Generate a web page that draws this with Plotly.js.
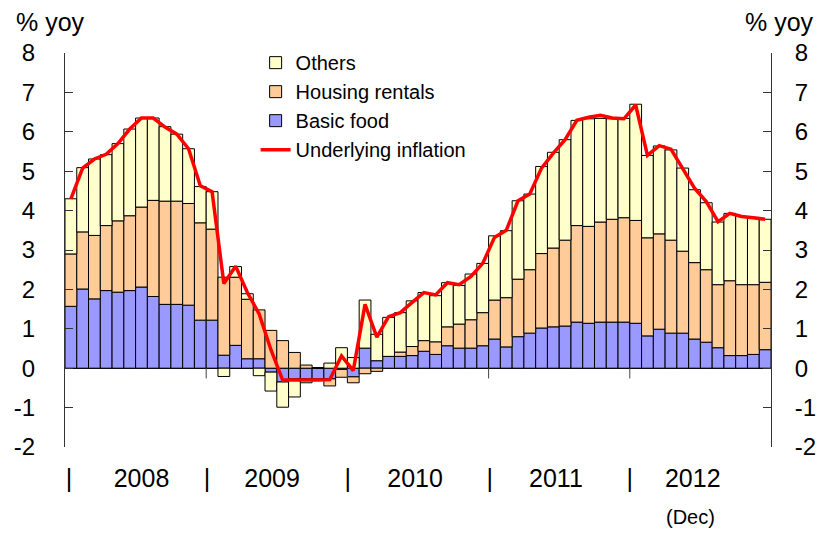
<!DOCTYPE html>
<html>
<head>
<meta charset="utf-8">
<script src="https://cdn.plot.ly/plotly-3.0.1.min.js"></script>
<style>
html,body{margin:0;padding:0;background:#fff;}
#chart{width:828px;height:533px;}
</style>
</head>
<body>
<div id="chart"></div>
<script>
// Months Jan 2008 .. Dec 2012 (60 months), positions 1..60
var months = [];
for (var i = 1; i <= 60; i++) months.push(i);

var basicFood = [
  1.57,2.01,1.76,1.97,1.93,1.97,2.06,1.82,1.62,1.62,1.60,1.22,
  1.22,0.33,0.58,0.24,0.24,-0.10,-0.35,-0.27,-0.27,-0.27,-0.27,-0.03,
  -0.22,0.51,0.19,0.30,0.30,0.32,0.43,0.35,0.57,0.51,0.51,0.57,
  0.74,0.54,0.80,0.89,1.02,1.05,1.07,1.17,1.14,1.17,1.17,1.17,
  1.14,0.82,0.99,0.89,0.89,0.74,0.66,0.52,0.32,0.32,0.35,0.47
];
var housingRentals = [
  1.33,1.45,1.61,1.65,1.81,1.90,2.03,2.44,2.62,2.62,2.58,2.47,
  2.31,1.98,1.73,1.51,1.24,0.96,0.70,0.40,0.08,0.00,-0.18,-0.20,
  -0.15,-0.14,-0.08,0.00,0.11,0.23,0.27,0.32,0.48,0.61,0.72,0.84,
  0.99,1.25,1.46,1.61,1.89,2.00,2.18,2.45,2.46,2.54,2.61,2.65,
  2.61,2.49,2.42,2.36,2.08,1.94,1.84,1.60,1.90,1.80,1.77,1.71
];
var others = [
  1.40,1.63,1.94,1.80,1.96,2.20,2.26,2.09,1.89,1.70,1.39,0.92,
  0.95,-0.21,0.27,0.14,-0.19,-0.48,-0.64,-0.46,-0.10,-0.03,0.13,0.52,
  0.27,1.22,0.67,0.99,1.00,1.16,1.22,1.17,1.12,0.98,1.16,1.25,
  1.63,1.70,1.99,1.92,2.21,2.43,2.55,2.67,2.73,2.63,2.55,2.52,
  2.95,2.09,2.23,2.29,2.11,1.85,1.70,1.59,1.71,1.73,1.70,1.60
];
var underlying = [
  4.30,5.08,5.31,5.43,5.70,6.07,6.35,6.35,6.12,5.94,5.57,4.63,
  4.48,2.15,2.59,1.92,1.38,0.47,-0.30,-0.31,-0.30,-0.30,-0.29,0.31,
  -0.06,1.62,0.79,1.31,1.41,1.67,1.92,1.86,2.17,2.12,2.33,2.66,
  3.32,3.50,4.25,4.42,5.08,5.46,5.80,6.29,6.37,6.42,6.35,6.33,
  6.68,5.40,5.65,5.56,5.08,4.57,4.23,3.72,3.93,3.85,3.82,3.78
];

var yTickVals = [-2,-1,0,1,2,3,4,5,6,7,8];
var yTickText = ['-2','-1','0','1','2','3','4','5','6','7','8'];
var yearLabels = ['|','2008','|','2009','|','2010','|','2011','|','2012'];
var yearLabelPos = [0.84,7.0,12.56,18.1,24.54,30.25,36.6,42.22,48.5,53.85];
var yearBounds = [12.5,24.5,36.5,48.5];

var FONT = 'Arial, "Liberation Sans", sans-serif';
var lineBlk = {color:'#000', width:1};

var traces = [
  {type:'bar', name:'Basic food', x:months, y:basicFood,
   marker:{color:'#9999FF', line:lineBlk}, legendrank:3, hoverinfo:'skip'},
  {type:'bar', name:'Housing rentals', x:months, y:housingRentals,
   marker:{color:'#FFCC99', line:lineBlk}, legendrank:2, hoverinfo:'skip'},
  {type:'bar', name:'Others', x:months, y:others,
   marker:{color:'#FFFFCC', line:lineBlk}, legendrank:1, hoverinfo:'skip'},
  {type:'scatter', mode:'lines', name:'Underlying inflation', x:months, y:underlying,
   yaxis:'y2',
   line:{color:'#FF0000', width:3.5}, legendrank:4, hoverinfo:'skip'}
];

var shapes = yearBounds.map(function(b){
  return {type:'line', xref:'x', yref:'y', x0:b, x1:b, y0:0, y1:-0.26,
          line:{color:'#444', width:1}};
});

var axisY = {
  range:[-2,8], tickmode:'array', tickvals:yTickVals, ticktext:yTickText,
  showgrid:false, showline:true, linecolor:'#333', linewidth:1,
  ticks:'inside', ticklen:8, tickcolor:'#333', tickwidth:1,
  tickfont:{family:FONT, size:24, color:'#000'}, fixedrange:true
};

var layout = {
  width:828, height:533,
  margin:{l:65, r:57, t:53, b:86, pad:0},
  paper_bgcolor:'#fff', plot_bgcolor:'#fff',
  barmode:'relative', bargap:0,
  showlegend:true,
  font:{family:FONT, color:'#000'},
  legend:{x:0.27, y:1.025, xanchor:'left', yanchor:'top', traceorder:'normal',
          bgcolor:'rgba(0,0,0,0)', font:{family:FONT, size:20, color:'#000'}},
  xaxis:{range:[0.5,60.5], showgrid:false, zeroline:false, showline:false,
         tickmode:'array', tickvals:yearLabelPos, ticktext:yearLabels, ticks:'',
         tickfont:{family:FONT, size:25, color:'#000'}, ticklabelstandoff:14, fixedrange:true},
  yaxis:Object.assign({}, axisY, {zeroline:true, zerolinecolor:'#000', zerolinewidth:1.5, ticklabelstandoff:24}),
  yaxis2:Object.assign({}, axisY, {overlaying:'y', side:'right', anchor:'x', zeroline:false, ticklabelstandoff:18}),
  shapes:shapes,
  annotations:[
    {text:'% yoy', xref:'paper', yref:'paper', x:-0.021, y:1.079, xanchor:'center', yanchor:'middle',
     showarrow:false, font:{family:FONT, size:25, color:'#000'}},
    {text:'% yoy', xref:'paper', yref:'paper', x:1.0125, y:1.079, xanchor:'center', yanchor:'middle',
     showarrow:false, font:{family:FONT, size:25, color:'#000'}},
    {text:'(Dec)', xref:'paper', yref:'paper', x:0.886, y:-0.178, xanchor:'center', yanchor:'middle',
     showarrow:false, font:{family:FONT, size:20, color:'#000'}}
  ]
};

Plotly.newPlot('chart', traces, layout, {displayModeBar:false, staticPlot:true});
</script>
</body>
</html>
